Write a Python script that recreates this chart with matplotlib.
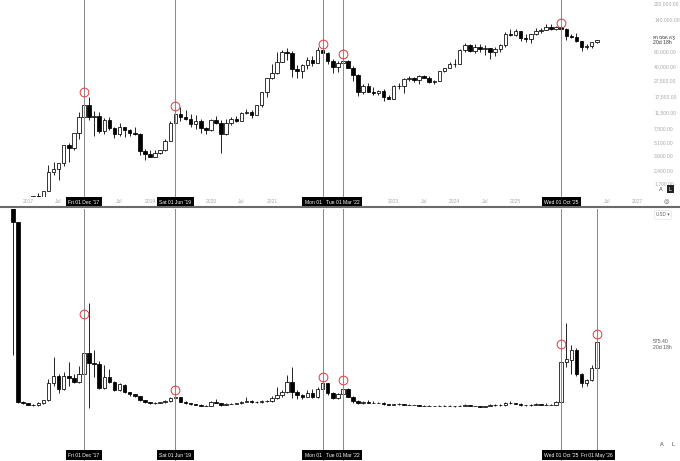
import matplotlib
matplotlib.use("Agg")
import matplotlib.pyplot as plt
import matplotlib.transforms as mtransforms
from matplotlib.lines import Line2D
from matplotlib.ticker import NullLocator
import numpy as np

plt.rcParams['font.family'] = ['Liberation Sans', 'DejaVu Sans']

# ---------------- data (monthly bars, index 0 = Oct 2016) ----------------
btc_open = [609, 700, 742, 963, 970, 1190, 1080, 1350, 2300, 2480, 2875, 4700, 4340, 6470,
            10200, 14160, 10220, 10330, 6930, 9240, 7490, 6390, 7730, 7030, 6630, 6320, 4040,
            3740, 3460, 3850, 4100, 5350, 8560, 10820, 10080, 9600, 8300, 9150, 7550,
            7190, 9350, 8540, 6410, 8630, 9450, 9140, 11350, 11660, 10790, 13800, 19700,
            28990, 33110, 45140, 58800, 57700, 37300, 35040, 41460, 47100, 43790, 61300, 57000,
            46200, 38500, 43190, 45500, 37700, 31800, 19950, 23300, 20050, 19430, 20500, 17170,
            16540, 23140, 23150, 28480, 29240, 27220, 30480, 29230, 25940, 26970, 34660, 37720,
            42270, 42580, 61130, 71300, 60600, 67500, 62700, 64600, 58970, 63300, 70200, 96400,
            93400, 102400, 84350, 82550, 94200, 104600, 107100, 115700, 108200, 114000, 109600, 90400,
            87500, 78700, 66900, 68000, 76300]
btc_high = [740, 757, 981, 1150, 1210, 1290, 1350, 2760, 2980, 2930, 4770, 4990, 6470, 11500,
            19700, 17200, 11790, 11700, 9760, 9990, 7760, 8500, 7760, 7400, 7680, 6540, 4230,
            4110, 4190, 4140, 5640, 9070, 13880, 13200, 12330, 10950, 10540, 9510, 7750,
            9580, 10500, 9190, 9470, 10080, 10390, 11450, 12470, 12070, 14100, 19860, 29300,
            41950, 58350, 61780, 64900, 59600, 41300, 42400, 50500, 52900, 67000, 69000, 59100,
            47990, 45800, 48200, 47400, 40000, 31900, 24700, 25200, 22800, 21000, 21500, 18400,
            23960, 25250, 29200, 31000, 29820, 31400, 31800, 30200, 27490, 35200, 38420, 44700,
            48970, 64000, 73800, 72800, 71900, 72000, 70000, 65600, 66500, 73600, 99800, 108300,
            109300, 102500, 95000, 95700, 111900, 110600, 123200, 124400, 117900, 126200, 111000, 94600,
            97900, 79500, 72000, 77500, 82000]
btc_low = [604, 683, 742, 751, 920, 890, 1060, 1350, 2080, 1830, 2680, 2970, 4130, 5520,
           10100, 9200, 6000, 6600, 6450, 7030, 5780, 6070, 5880, 6100, 6180, 3650, 3130,
           3400, 3390, 3730, 4080, 5330, 7520, 9070, 9330, 7730, 7300, 6520, 6430,
           6870, 8450, 3850, 6150, 8120, 8830, 8970, 10960, 9880, 10540, 13200, 17570,
           28130, 32300, 44950, 47000, 30000, 28800, 29300, 37300, 39600, 43300, 53300, 42000,
           32900, 34300, 37200, 37600, 26700, 17600, 18800, 19600, 18150, 18200, 15500, 16300,
           16500, 21400, 19550, 26950, 25800, 24800, 28860, 25170, 24900, 26550, 34100, 37600,
           38500, 41900, 59000, 59100, 56500, 58400, 53500, 49000, 52500, 58900, 66800, 90500,
           89200, 78200, 76600, 74600, 93300, 98200, 105100, 107300, 107300, 102000, 80600, 84400,
           76000, 60000, 63000, 65500, 75500]
btc_close = [700, 742, 963, 970, 1190, 1080, 1350, 2300, 2480, 2875, 4700, 4340, 6470, 10200,
             14160, 10220, 10330, 6930, 9240, 7490, 6390, 7730, 7030, 6630, 6320, 4040, 3740,
             3460, 3850, 4100, 5350, 8560, 10820, 10080, 9600, 8300, 9150, 7550, 7190,
             9350, 8540, 6410, 8630, 9450, 9140, 11350, 11660, 10790, 13800, 19700, 28990,
             33110, 45140, 58800, 57700, 37300, 35040, 41460, 47100, 43790, 61300, 57000, 46200,
             38500, 43190, 45500, 37700, 31800, 19950, 23300, 20050, 19430, 20500, 17170, 16540,
             23140, 23150, 28480, 29240, 27220, 30480, 29230, 25940, 26970, 34660, 37720, 42270,
             42580, 61130, 71300, 60600, 67500, 62700, 64600, 58970, 63300, 70200, 96400, 93400,
             102400, 84350, 82550, 94200, 104600, 107100, 115700, 108200, 114000, 109600, 90400, 87500,
             78700, 66900, 68000, 76300, 80996.63]

zec_open = [2500, 1604, 60, 49, 36, 32, 50, 75, 220, 286, 169, 280, 270, 229,
            298, 478, 392, 384, 178, 277, 229, 163, 206, 148, 125, 110, 77,
            56, 48, 50, 57, 66, 92, 100, 63, 50, 42, 38, 30,
            28, 56, 50, 35, 44, 46, 49, 63, 70, 61, 59, 72,
            65, 92, 118, 150, 234, 148, 120, 106, 140, 100, 169, 220,
            140, 92, 126, 169, 106, 70, 49, 58, 55, 52, 55, 40,
            33, 42, 40, 35, 36, 32, 28, 30, 25, 26, 29, 27,
            26, 24, 29, 33, 26, 26, 20, 24, 35, 38, 32, 52,
            50, 45, 32, 32, 35, 42, 36, 38, 36, 63, 401, 420,
            506, 300, 220, 249, 349]
zec_high = [2500, 1604, 66, 52, 42, 60, 80, 260, 446, 300, 320, 406, 300, 369,
            700, 910, 506, 412, 377, 343, 240, 225, 215, 150, 130, 115, 80,
            60, 56, 60, 75, 100, 127, 105, 66, 54, 45, 40, 32,
            66, 85, 52, 48, 52, 52, 70, 100, 75, 70, 80, 80,
            115, 191, 165, 292, 363, 160, 130, 160, 175, 190, 250, 225,
            150, 135, 230, 180, 110, 75, 72, 75, 68, 60, 58, 42,
            46, 48, 42, 40, 38, 33, 33, 31, 27, 31, 31, 33,
            30, 31, 40, 34, 30, 27, 27, 44, 45, 40, 64, 70,
            55, 48, 38, 40, 55, 45, 48, 45, 72, 440, 740, 549,
            520, 310, 260, 380, 580]
zec_low = [463, 52, 44, 32, 28, 30, 45, 70, 200, 135, 160, 200, 220, 220,
           280, 9, 277, 170, 170, 220, 155, 155, 140, 110, 100, 70, 50,
           45, 44, 48, 55, 60, 80, 60, 45, 38, 33, 27, 26,
           27, 48, 25, 33, 40, 42, 47, 60, 55, 55, 55, 60,
           62, 85, 105, 140, 94, 90, 90, 100, 95, 98, 160, 120,
           85, 88, 115, 100, 55, 40, 45, 55, 50, 50, 35, 32,
           32, 38, 32, 33, 31, 23, 27, 24, 24, 25, 25, 25,
           21, 22, 28, 24, 23, 19, 19, 22, 30, 28, 30, 45,
           40, 28, 26, 30, 33, 32, 35, 33, 35, 55, 363, 300,
           280, 186, 200, 240, 340]
zec_close = [1604, 60, 49, 36, 32, 50, 75, 220, 286, 169, 280, 270, 229, 298,
             478, 392, 384, 178, 277, 229, 163, 212, 148, 125, 110, 77, 56,
             48, 50, 57, 66, 92, 100, 63, 50, 42, 38, 30, 28,
             56, 50, 35, 44, 46, 49, 63, 70, 61, 59, 72, 65,
             92, 118, 150, 234, 148, 120, 106, 140, 100, 169, 220, 140,
             92, 126, 169, 106, 70, 49, 58, 55, 52, 55, 40, 33,
             42, 40, 35, 36, 32, 28, 30, 25, 26, 29, 27, 26,
             24, 29, 33, 26, 26, 20, 24, 35, 38, 32, 55, 50,
             45, 32, 32, 35, 42, 36, 38, 36, 63, 401, 426, 506,
             300, 220, 249, 349, 575.4]

# event markers (bar index, label) and circled highs
# the Nov '21 box is partly covered by the Mar '22 box, so only "Mon 01" shows
top_events = [(14, "Fri 01 Dec '17"), (32, "Sat 01 Jun '19"), (61, "Mon 01"),
              (65, "Tue 01 Mar '22"), (108, "Wed 01 Oct '25")]
bot_events = top_events + [(115, "Fri 01 May '26")]
top_circles_x = [14, 32, 61, 65, 108]
top_circles_y = [20000, 13600, 72600, 55000, 127000]
bot_circles_x = [14, 32, 61, 65, 108, 115]
bot_circles_y = [812, 163, 272, 249, 555, 643]

# only the time-axis labels that are not hidden behind the date boxes
year_ticks = [3, 9, 21, 27, 39, 45, 51, 75, 81, 87, 93, 99, 117, 123]
year_labels = ["2017", "Jul", "Jul", "2019", "2020", "Jul", "2021",
               "2023", "Jul", "2024", "Jul", "2025", "Jul", "2027"]
price_ticks = [220000, 140000, 91000, 60000, 40000, 27500, 17500, 11500, 7500, 5100, 3600, 2400, 1700]

# ---------------- figure ----------------
W, H = 680, 461
fig = plt.figure(figsize=(W / 100, H / 100), dpi=100)
fig.patch.set_facecolor('white')

def frac_box(x0, y0, x1, y1):
    return [x0 / W, 1 - y1 / H, (x1 - x0) / W, (y1 - y0) / H]

ax1 = fig.add_axes(frac_box(0, 0, 650, 197))
ax2 = fig.add_axes(frac_box(0, 209, 650, 448))

PXM = 5.077  # pixels per monthly bar
XL = (14 - 84 / PXM, 14 + 566 / PXM)
GREY = '#a8a8a8'
LINEC = '#8c8c8c'
RED = '#e0393e'


def candles(ax, o, h, l, c, width=0.7):
    o, h, l, c = map(np.asarray, (o, h, l, c))
    x = np.arange(len(o))
    up = c >= o
    ax.vlines(x, l, h, color='black', lw=0.6, zorder=2)
    bot = np.minimum(o, c)
    hgt = np.abs(c - o)
    ax.bar(x[up], hgt[up], width, bot[up], facecolor='white', edgecolor='black', lw=0.55, zorder=3)
    ax.bar(x[~up], hgt[~up], width, bot[~up], facecolor='black', edgecolor='black', lw=0.55, zorder=3)


def date_box(ax, i, lab, yax, z):
    tr = mtransforms.blended_transform_factory(ax.transData, ax.transAxes)
    if lab == "Mon 01":
        # left edge of the (partly hidden) full box
        ax.text(i - 3.55, yax, lab, transform=tr, ha='left', va='center', fontsize=3.6, color='white',
                bbox=dict(boxstyle='square,pad=0.45', fc='black', ec='none'), zorder=z, clip_on=False)
    else:
        ax.text(i, yax, lab, transform=tr, ha='center', va='center', fontsize=3.6, color='white',
                bbox=dict(boxstyle='square,pad=0.45', fc='black', ec='none'), zorder=z, clip_on=False)


for ax in (ax1, ax2):
    ax.set_xlim(*XL)
    for s in ax.spines.values():
        s.set_visible(False)
    ax.patch.set_visible(False)

# top panel
ax1.set_yscale('log')
ax1.set_ylim(10 ** (5.34242 - 194 / 85.2), 10 ** (5.34242 + 3 / 85.2))
candles(ax1, btc_open, btc_high, btc_low, btc_close)
ax1.yaxis.set_minor_locator(NullLocator())
ax1.yaxis.tick_right()
ax1.set_yticks(price_ticks, [f"{v:,.2f}" for v in price_ticks])
ax1.tick_params(axis='y', length=0, pad=3, labelsize=3.6, labelcolor=GREY)
ax1.set_xticks(year_ticks, year_labels)
ax1.tick_params(axis='x', length=0, pad=1.6, labelsize=3.6, labelcolor=GREY)
ax1.plot(top_circles_x, top_circles_y, 'o', mfc='none', mec=RED, ms=6.3, mew=0.7, zorder=6, clip_on=False)

# bottom panel
ax2.set_ylim((409 - 448) * 8.58, (409 - 209) * 8.58)
candles(ax2, zec_open, zec_high, zec_low, zec_close)
ax2.set_xticks([])
ax2.set_yticks([])
ax2.plot(bot_circles_x, bot_circles_y, 'o', mfc='none', mec=RED, ms=6.3, mew=0.7, zorder=6, clip_on=False)

# event lines and date boxes
for i, lab in top_events:
    ax1.axvline(i, ymin=-10 / 197, ymax=1, color=LINEC, lw=0.75, zorder=4, clip_on=False)
for k, (i, lab) in enumerate(top_events):
    date_box(ax1, i, lab, -5 / 197, 10 + k)

for i, lab in bot_events:
    ax2.axvline(i, ymin=-13 / 239, ymax=1, color=LINEC, lw=0.75, zorder=4, clip_on=False)
for k, (i, lab) in enumerate(bot_events):
    date_box(ax2, i, lab, -7 / 239, 10 + k)

# current price labels
tb1 = mtransforms.blended_transform_factory(ax1.transAxes, ax1.transData)
ax1.text(1.0045, btc_close[-1], f"{btc_close[-1]:,.2f}", transform=tb1, ha='left', va='bottom',
         fontsize=3.7, color='#333333', zorder=20, clip_on=False,
         bbox=dict(boxstyle='square,pad=0.25', fc='white', ec='none'))
ax1.text(1.0045, btc_close[-1], "20d 18h", transform=tb1, ha='left', va='top',
         fontsize=3.7, color='#333333', zorder=20, clip_on=False,
         bbox=dict(boxstyle='square,pad=0.25', fc='white', ec='none'))

tb2 = mtransforms.blended_transform_factory(ax2.transAxes, ax2.transData)
ax2.text(1.0045, zec_close[-1], f"{zec_close[-1]:.2f}", transform=tb2, ha='left', va='center',
         fontsize=3.7, color='#555555', clip_on=False)
ax2.text(1.0045, zec_close[-1] - 48, "20d 18h", transform=tb2, ha='left', va='center',
         fontsize=3.7, color='#555555', clip_on=False)

# panel separator and small UI texts
fig.add_artist(Line2D([0, 1], [1 - 207.5 / H] * 2, color='#6a6a6a', lw=1.5))
fig.text(661 / W, 1 - 189 / H, "A", fontsize=4, color='#444444', ha='center', va='center')
fig.text(670.5 / W, 1 - 189 / H, "L", fontsize=4, color='white', ha='center', va='center',
         bbox=dict(boxstyle='square,pad=0.35', fc='#222222', ec='none'))
fig.text(666 / W, 1 - 202 / H, "◎", fontsize=4.5, color='#555555', ha='center', va='center')
fig.text(663 / W, 1 - 215 / H, "USD ▾", fontsize=3.4, color='#666666', ha='center', va='center',
         bbox=dict(boxstyle='round,pad=0.4', fc='white', ec='#e3e3e3', lw=0.5))
fig.text(662 / W, 1 - 444 / H, "A", fontsize=4, color='#444444', ha='center', va='center')
fig.text(673 / W, 1 - 444 / H, "L", fontsize=4, color='#444444', ha='center', va='center')

fig.savefig("out.png", dpi=100)
